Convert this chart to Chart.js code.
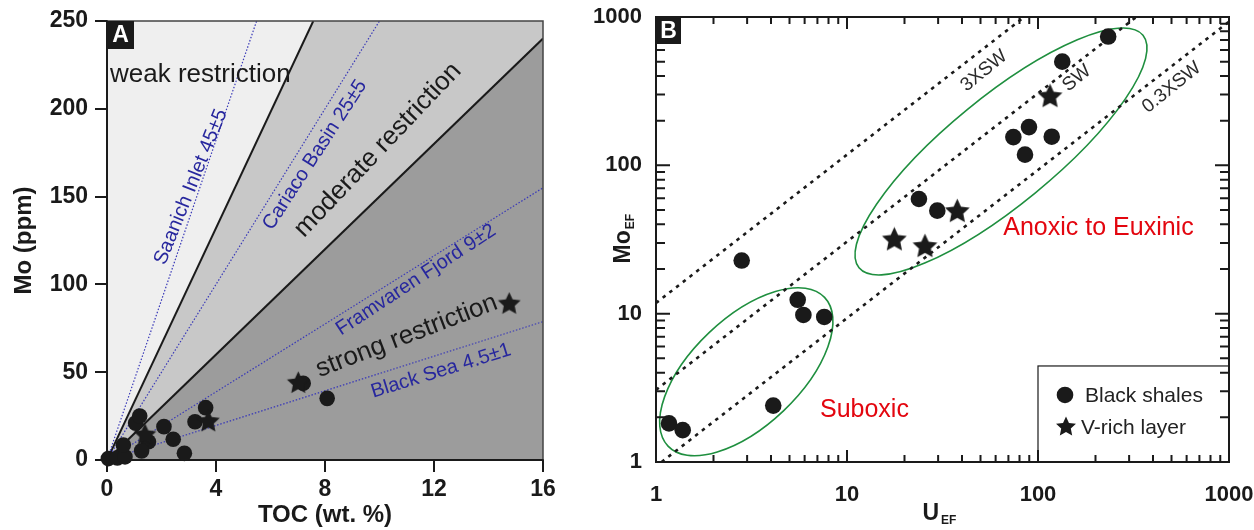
<!DOCTYPE html>
<html>
<head>
<meta charset="utf-8">
<script src="https://cdn.jsdelivr.net/npm/chart.js@4.4.1/dist/chart.umd.min.js"></script>
<style>
  html, body { margin: 0; padding: 0; background: #fff; }
  #wrap { position: relative; width: 1254px; height: 530px; }
  .panel { position: absolute; top: 0; height: 530px; }
  #panelA { left: 0; width: 600px; }
  #panelB { left: 580px; width: 674px; }
</style>
</head>
<body>
<div id="wrap">
  <div class="panel" id="panelA"><canvas id="chartA" width="600" height="530"></canvas></div>
  <div class="panel" id="panelB"><canvas id="chartB" width="674" height="530"></canvas></div>
</div>
<script>
// ---- Panel A: Mo (ppm) vs TOC (wt. %) ----
const tocShales = [0.05, 0.38, 0.66, 0.6, 1.05, 1.2, 1.52, 1.27, 2.09, 2.43, 2.84, 3.23, 3.62, 7.2, 8.08];
const moShales  = [0.8, 1.2, 1.8, 8.5, 21, 25, 10.4, 5.2, 19, 11.8, 3.8, 21.8, 29.8, 43.7, 35.1];
const tocVrich  = [1.39, 3.72, 7.02, 14.76];
const moVrich   = [14.2, 21.8, 43.7, 88.8];

const weakModerateBoundary   = [[0, 0], [7.57, 250]];
const moderateStrongBoundary = [[0, 0], [16, 240]];
const saanichLine   = [[0, 0], [5.49, 250]];
const cariacoLine   = [[0, 0], [10.0, 250]];
const framvarenLine = [[0, 0], [16, 155]];
const blackSeaLine  = [[0, 0], [16, 78.8]];

const tocTicks = [0, 4, 8, 12, 16];
const moTicks  = [0, 50, 100, 150, 200, 250];

// ---- Panel B: Mo_EF vs U_EF ----
const uShales    = [233, 134, 74.3, 89.7, 118, 85.5, 23.8, 29.7, 2.81, 5.52, 5.91, 7.6, 4.11, 1.17, 1.38];
const moEfShales = [738, 500, 155, 181, 156, 118, 59.3, 49.5, 22.8, 12.4, 9.8, 9.5, 2.4, 1.82, 1.64];
const uVrich     = [115.6, 37.8, 17.7, 25.6];
const moEfVrich  = [290, 48.7, 31.4, 28.3];

const threeSwLine = [[1, 11.8], [84.7, 1000]];
const swLine      = [[1, 3.06], [327, 1000]];
const lowSwLine   = [[1.07, 1], [1000, 930]];

const logTicks = [1, 2, 3, 4, 5, 6, 7, 8, 9, 10, 20, 30, 40, 50, 60, 70, 80, 90,
                  100, 200, 300, 400, 500, 600, 700, 800, 900, 1000];
const decadeLabels = [1, 10, 100, 1000];

// ellipses given by the ends of their long axis (data units) and width ratio
const anoxicEllipse  = { from: [11.56, 20.4], to: [354.6, 754], ratio: 0.293 };
const suboxicEllipse = { from: [1.156, 1.28], to: [7.63, 12.88], ratio: 0.5 };

const FONT = '"Liberation Sans", Arial, Helvetica, sans-serif';
const INK = '#1a1a1a';
const BLUE = '#27279e';
const RED = '#e3060f';

const zip = (xs, ys) => xs.map((x, i) => ({ x, y: ys[i] }));
const toXY = pts => pts.map(([x, y]) => ({ x, y }));

function starImage(size, color) {
  const c = document.createElement('canvas');
  c.width = c.height = size;
  const g = c.getContext('2d');
  const r = size / 2 - 0.5, ri = r * 0.48;
  g.beginPath();
  for (let i = 0; i < 10; i++) {
    const rad = i % 2 ? ri : r;
    const a = -Math.PI / 2 + i * Math.PI / 5;
    g.lineTo(size / 2 + rad * Math.cos(a), size / 2 + rad * Math.sin(a));
  }
  g.closePath();
  g.fillStyle = color;
  g.fill();
  return c;
}

function drawLabel(ctx, t, px, py) {
  ctx.save();
  ctx.translate(px, py);
  ctx.rotate((t.angle || 0) * Math.PI / 180);
  ctx.font = (t.weight || 'normal') + ' ' + t.size + 'px ' + FONT;
  ctx.fillStyle = t.color;
  ctx.textAlign = t.align || 'center';
  ctx.textBaseline = t.baseline || 'middle';
  ctx.fillText(t.text, 0, 0);
  ctx.restore();
}

function badge(ctx, letter, left, top, w, h) {
  ctx.save();
  ctx.fillStyle = INK;
  ctx.fillRect(left, top, w, h);
  ctx.fillStyle = '#fff';
  ctx.font = 'bold 23px ' + FONT;
  ctx.textAlign = 'center';
  ctx.textBaseline = 'middle';
  ctx.fillText(letter, left + w / 2, top + h / 2 + 1);
  ctx.restore();
}

// ---------------- Panel A ----------------
const textA = [
  { text: 'weak restriction', x: 0.11, y: 215.3, size: 26, color: INK, align: 'left', baseline: 'alphabetic' },
  { text: 'Saanich Inlet 45\u00b15', x: 3.08, y: 155.5, angle: -68, size: 20, color: BLUE },
  { text: 'Cariaco Basin 25\u00b15', x: 7.63, y: 173.7, angle: -57, size: 20, color: BLUE },
  { text: 'moderate restriction', x: 9.94, y: 176.5, angle: -46.5, size: 26, color: INK },
  { text: 'Framvaren Fjord 9\u00b12', x: 11.34, y: 102.5, angle: -33.3, size: 20, color: BLUE },
  { text: 'strong restriction', x: 11.0, y: 70.6, angle: -21, size: 26, color: INK },
  { text: 'Black Sea 4.5\u00b11', x: 12.26, y: 50.7, angle: -17.2, size: 20, color: BLUE }
];

const panelAPlugin = {
  id: 'panelAExtras',
  afterDatasetDraw(chart, args) {
    if (!chart.data.datasets[args.index].labelsAfter) return;
    const { ctx, chartArea: a, scales: { x, y } } = chart;
    textA.forEach(t => drawLabel(ctx, t, x.getPixelForValue(t.x), y.getPixelForValue(t.y)));
    ctx.save();
    ctx.strokeStyle = '#444';
    ctx.lineWidth = 1.5;
    ctx.beginPath();
    ctx.moveTo(a.left, a.top); ctx.lineTo(a.right, a.top); ctx.lineTo(a.right, a.bottom);
    ctx.stroke();
    ctx.strokeStyle = INK;
    ctx.lineWidth = 2;
    ctx.beginPath();
    ctx.moveTo(a.left, a.top); ctx.lineTo(a.left, a.bottom); ctx.lineTo(a.right, a.bottom);
    ctx.stroke();
    ctx.restore();
    badge(ctx, 'A', a.left, a.top, 27, 28);
  }
};

const solidLine = { borderColor: INK, borderWidth: 2, pointRadius: 0, showLine: true, fill: false };
const blueDots = { borderColor: '#3a3ab8', borderWidth: 1.2, borderDash: [1.5, 1.8], pointRadius: 0, showLine: true, fill: false };
const tickFont = { family: FONT, size: 23, weight: 'bold' };
const tickFontB = { family: FONT, size: 22, weight: 'bold' };
const titleFont = { family: FONT, size: 24, weight: 'bold' };

new Chart(document.getElementById('chartA'), {
  type: 'scatter',
  data: {
    datasets: [
      { data: [{ x: 0, y: 250 }, { x: 16, y: 250 }], showLine: true, fill: 'origin',
        backgroundColor: '#efefef', borderColor: 'transparent', pointRadius: 0, order: 20 },
      { data: toXY(weakModerateBoundary).concat([{ x: 16, y: 250 }]), showLine: true, fill: 'origin',
        backgroundColor: '#c8c8c8', borderColor: 'transparent', pointRadius: 0, order: 19 },
      { data: toXY(moderateStrongBoundary), showLine: true, fill: 'origin',
        backgroundColor: '#9c9c9c', borderColor: 'transparent', pointRadius: 0, order: 18 },
      { ...solidLine, data: toXY(weakModerateBoundary), order: 17 },
      { ...solidLine, data: toXY(moderateStrongBoundary), order: 16 },
      { ...blueDots, data: toXY(saanichLine), order: 15 },
      { ...blueDots, data: toXY(cariacoLine), order: 14 },
      { ...blueDots, data: toXY(framvarenLine), order: 13 },
      { ...blueDots, data: toXY(blackSeaLine), order: 12, labelsAfter: true },
      { label: 'Black shales', data: zip(tocShales, moShales), pointRadius: 7.8, pointBorderWidth: 0,
        backgroundColor: INK, clip: false, order: 2 },
      { label: 'V-rich layer', data: zip(tocVrich, moVrich), pointStyle: starImage(25, INK),
        pointRadius: 12, clip: false, order: 1 }
    ]
  },
  options: {
    responsive: false,
    animation: false,
    events: [],
    layout: { padding: { top: 21, right: 57, left: 0, bottom: 0 } },
    plugins: { legend: { display: false }, tooltip: { enabled: false } },
    scales: {
      x: {
        type: 'linear', min: 0, max: 16,
        afterBuildTicks: s => { s.ticks = tocTicks.map(v => ({ value: v })); },
        afterFit: s => { s.height = 70; },
        ticks: { font: tickFont, color: INK, padding: 4, maxRotation: 0 },
        grid: { display: true, drawOnChartArea: false, drawTicks: true, tickLength: 12, color: INK, lineWidth: 2 },
        border: { display: true, color: INK, width: 2 },
        title: { display: true, text: 'TOC (wt. %)', font: titleFont, color: INK, padding: { top: 0, bottom: 0 } }
      },
      y: {
        type: 'linear', min: 0, max: 250,
        afterBuildTicks: s => { s.ticks = moTicks.map(v => ({ value: v })); },
        afterFit: s => { s.width = 107; },
        ticks: { font: tickFont, color: INK, padding: 7 },
        grid: { display: true, drawOnChartArea: false, drawTicks: true, tickLength: 12, color: INK, lineWidth: 2 },
        border: { display: true, color: INK, width: 2 },
        title: { display: true, text: 'Mo (ppm)', font: titleFont, color: INK, padding: { top: 10, bottom: 0 } }
      }
    }
  },
  plugins: [panelAPlugin]
});

// ---------------- Panel B ----------------
const textB = [
  { text: '3XSW', x: 52.2, y: 433, angle: -39, size: 19, color: '#2a2a2a' },
  { text: 'SW', x: 159.5, y: 386, angle: -39, size: 19, color: '#2a2a2a' },
  { text: '0.3XSW', x: 501, y: 335, angle: -39, size: 19, color: '#2a2a2a' },
  { text: 'Anoxic to Euxinic', x: 65.8, y: 33.9, size: 25, color: RED, align: 'left', baseline: 'alphabetic' },
  { text: 'Suboxic', x: 7.22, y: 2.02, size: 25, color: RED, align: 'left', baseline: 'alphabetic' }
];
const legendCorner = { x: 100, y: 4.44 };
const legendStar = starImage(22, INK);

function drawEllipse(ctx, x, y, e) {
  const x1 = x.getPixelForValue(e.from[0]), y1 = y.getPixelForValue(e.from[1]);
  const x2 = x.getPixelForValue(e.to[0]), y2 = y.getPixelForValue(e.to[1]);
  const a = Math.hypot(x2 - x1, y2 - y1) / 2;
  ctx.beginPath();
  ctx.ellipse((x1 + x2) / 2, (y1 + y2) / 2, a, a * e.ratio, Math.atan2(y2 - y1, x2 - x1), 0, Math.PI * 2);
  ctx.stroke();
}

const panelBPlugin = {
  id: 'panelBExtras',
  beforeDatasetsDraw(chart) {
    const { ctx, chartArea: a, scales: { x, y } } = chart;
    ctx.save();
    ctx.beginPath();
    ctx.rect(a.left, a.top, a.right - a.left, a.bottom - a.top);
    ctx.clip();
    ctx.strokeStyle = '#1f8f3f';
    ctx.lineWidth = 1.6;
    drawEllipse(ctx, x, y, anoxicEllipse);
    drawEllipse(ctx, x, y, suboxicEllipse);
    ctx.restore();
  },
  afterDatasetsDraw(chart) {
    const { ctx, chartArea: a, scales: { x, y } } = chart;
    textB.forEach(t => drawLabel(ctx, t, x.getPixelForValue(t.x), y.getPixelForValue(t.y)));

    // legend box
    const lx = x.getPixelForValue(legendCorner.x), ly = y.getPixelForValue(legendCorner.y);
    ctx.save();
    ctx.fillStyle = '#fff';
    ctx.fillRect(lx, ly, a.right - lx, a.bottom - ly);
    ctx.strokeStyle = INK;
    ctx.lineWidth = 1.2;
    ctx.strokeRect(lx, ly, a.right - lx, a.bottom - ly);
    ctx.fillStyle = INK;
    ctx.beginPath();
    ctx.arc(lx + 27, ly + 29, 8.3, 0, Math.PI * 2);
    ctx.fill();
    ctx.drawImage(legendStar, lx + 28 - 11, ly + 61 - 11);
    ctx.font = '21px ' + FONT;
    ctx.fillStyle = '#222';
    ctx.textBaseline = 'middle';
    ctx.textAlign = 'left';
    ctx.fillText('Black shales', lx + 47, ly + 30);
    ctx.fillText('V-rich layer', lx + 43, ly + 62);
    ctx.restore();

    // inward ticks on all four sides
    ctx.save();
    ctx.strokeStyle = INK;
    ctx.lineWidth = 2;
    ctx.beginPath();
    x.ticks.forEach(t => {
      const px = x.getPixelForValue(t.value);
      const len = decadeLabels.includes(t.value) ? 12 : 7;
      ctx.moveTo(px, a.bottom); ctx.lineTo(px, a.bottom - len);
      ctx.moveTo(px, a.top); ctx.lineTo(px, a.top + len);
    });
    y.ticks.forEach(t => {
      const py = y.getPixelForValue(t.value);
      const len = decadeLabels.includes(t.value) ? 14 : 9;
      ctx.moveTo(a.left, py); ctx.lineTo(a.left + len, py);
      ctx.moveTo(a.right, py); ctx.lineTo(a.right - len, py);
    });
    ctx.stroke();
    ctx.strokeRect(a.left, a.top, a.right - a.left, a.bottom - a.top);
    ctx.restore();

    badge(ctx, 'B', a.left, a.top, 25, 27);

    // axis titles with subscripts
    ctx.save();
    ctx.fillStyle = INK;
    ctx.textBaseline = 'alphabetic';
    ctx.textAlign = 'left';
    const cx = (a.left + a.right) / 2 - 20;
    ctx.font = 'bold 23px ' + FONT;
    ctx.fillText('U', cx, 520);
    const uw = ctx.measureText('U').width;
    ctx.font = 'bold 12px ' + FONT;
    ctx.fillText('EF', cx + uw + 2, 524);

    const cy = (a.top + a.bottom) / 2;
    ctx.translate(a.left - 26, cy + 24);
    ctx.rotate(-Math.PI / 2);
    ctx.font = 'bold 23px ' + FONT;
    ctx.fillText('Mo', 0, 0);
    const mw = ctx.measureText('Mo').width;
    ctx.font = 'bold 12px ' + FONT;
    ctx.fillText('EF', mw + 1, 4);
    ctx.restore();
  }
};

const swDots = { borderColor: INK, borderWidth: 2.6, borderDash: [3.5, 5], pointRadius: 0, showLine: true, fill: false };
const labelDecades = v => (decadeLabels.includes(v) ? String(v) : '');

new Chart(document.getElementById('chartB'), {
  type: 'scatter',
  data: {
    datasets: [
      { ...swDots, data: toXY(threeSwLine), order: 12 },
      { ...swDots, data: toXY(swLine), order: 11 },
      { ...swDots, data: toXY(lowSwLine), order: 10 },
      { label: 'Black shales', data: zip(uShales, moEfShales), pointRadius: 8.3, pointBorderWidth: 0,
        backgroundColor: INK, clip: false, order: 2 },
      { label: 'V-rich layer', data: zip(uVrich, moEfVrich), pointStyle: starImage(27, INK),
        pointRadius: 13, clip: false, order: 1 }
    ]
  },
  options: {
    responsive: false,
    animation: false,
    events: [],
    layout: { padding: { top: 17, right: 25, left: 0, bottom: 0 } },
    plugins: { legend: { display: false }, tooltip: { enabled: false } },
    scales: {
      x: {
        type: 'logarithmic', min: 1, max: 1000,
        afterBuildTicks: s => { s.ticks = logTicks.map(v => ({ value: v })); },
        afterFit: s => { s.height = 68; s.paddingLeft = 0; s.paddingRight = 0; },
        ticks: { font: tickFontB, color: INK, padding: 12, autoSkip: false, maxRotation: 0, callback: labelDecades },
        grid: { display: false },
        border: { display: true, color: INK, width: 2 }
      },
      y: {
        type: 'logarithmic', min: 1, max: 1000,
        afterBuildTicks: s => { s.ticks = logTicks.map(v => ({ value: v })); },
        afterFit: s => { s.width = 76; s.paddingTop = 0; s.paddingBottom = 0; },
        ticks: { font: tickFontB, color: INK, padding: 6, autoSkip: false, callback: labelDecades },
        grid: { display: false },
        border: { display: true, color: INK, width: 2 }
      }
    }
  },
  plugins: [panelBPlugin]
});
</script>
</body>
</html>
